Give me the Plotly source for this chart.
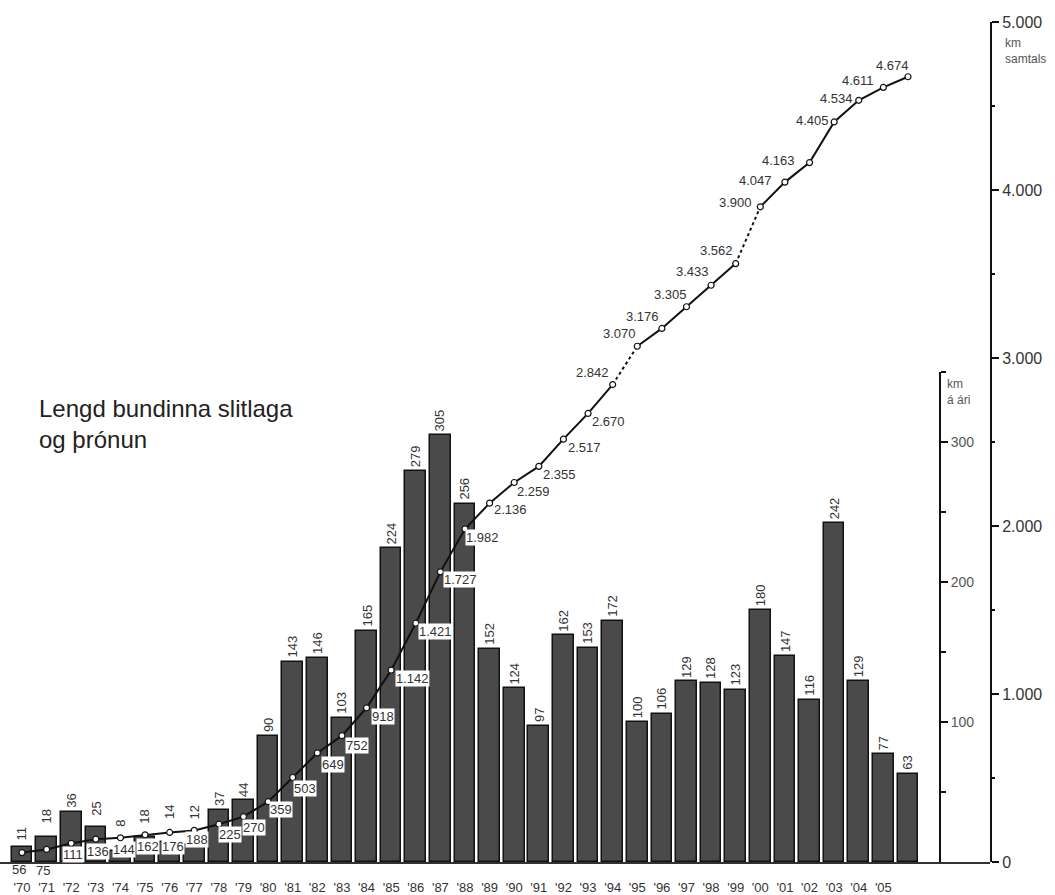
import plotly.graph_objects as go

years = list(range(1970, 2007))
tick_years = list(range(1970, 2006))
tick_labels = ["'" + str(y)[2:] for y in tick_years]
km_per_year = [11, 18, 36, 25, 8, 18, 14, 12, 37, 44, 90, 143, 146, 103, 165, 224, 279, 305,
               256, 152, 124, 97, 162, 153, 172, 100, 106, 129, 128, 123, 180, 147, 116, 242,
               129, 77, 63]
km_total = [56, 75, 111, 136, 144, 162, 176, 188, 225, 270, 359, 503, 649, 752, 918, 1142,
            1421, 1727, 1982, 2136, 2259, 2355, 2517, 2670, 2842, 3070, 3176, 3305, 3433, 3562,
            3900, 4047, 4163, 4405, 4534, 4611, 4674]
total_ticks = [0, 1000, 2000, 3000, 4000, 5000]
year_ticks = [100, 200, 300]

# label placement (screen px offsets: dx right, dy down)
label_offsets = [(-3, 17), (-4, 21), (2, 11), (2, 12), (4, 12), (3, 12), (3, 14), (3, 9),
                 (11, 10), (11, 11), (13, 8), (12, 11), (16, 12), (15, 10), (16, 9), (21, 8),
                 (20, 8), (20, 8), (18, 8), (21, 6), (19, 9), (21, 8), (21, 8), (20, 8),
                 (-20, -12), (-18, -13), (-19, -12), (-16, -12), (-19, -14), (-19, -13),
                 (-25, -4), (-29, -2), (-31, -2), (-22, -1), (-22, -2), (-25, -7), (-15, -11)]
boxed = set(range(2, 19))
# extra lift (px) of some bar labels so they clear the line
bar_label_lift = {0: 2, 1: 9, 3: 7, 4: 20, 5: 9, 6: 19, 7: 22}
dotted_segments = [(24, 25), (29, 30)]
solid_segments = [(0, 24), (25, 29), (30, 36)]

FONT = "Liberation Sans, Arial, sans-serif"
TXT = "#333333"

def fmt(v):
    return f"{v:,}".replace(",", ".")

fig = go.Figure()

fig.add_trace(go.Bar(
    x=years, y=km_per_year, width=0.84,
    marker=dict(color="#4a4a4a", line=dict(color="#111111", width=1.5)),
    xaxis="x", yaxis="y", showlegend=False,
))

for a, b in solid_segments:
    fig.add_trace(go.Scatter(
        x=years[a:b + 1], y=km_total[a:b + 1], mode="lines",
        line=dict(color="#111111", width=2), xaxis="x", yaxis="y2",
        showlegend=False, hoverinfo="skip", cliponaxis=False))
for a, b in dotted_segments:
    fig.add_trace(go.Scatter(
        x=years[a:b + 1], y=km_total[a:b + 1], mode="lines",
        line=dict(color="#111111", width=2, dash="dot"), xaxis="x", yaxis="y2",
        showlegend=False, hoverinfo="skip", cliponaxis=False))
fig.add_trace(go.Scatter(
    x=years, y=km_total, mode="markers",
    marker=dict(size=6, color="white", line=dict(color="#111111", width=1.2)),
    xaxis="x", yaxis="y2", showlegend=False, cliponaxis=False))

annotations = []
for i, (yr, v) in enumerate(zip(years, km_per_year)):
    annotations.append(dict(
        x=yr, y=v, xref="x", yref="y", text=str(v), showarrow=False, textangle=-90,
        xanchor="center", yanchor="bottom", yshift=2 + bar_label_lift.get(i, 0),
        font=dict(family=FONT, size=13, color=TXT)))

for i, (yr, v) in enumerate(zip(years, km_total)):
    dx, dy = label_offsets[i]
    ann = dict(x=yr, y=v, xref="x", yref="y2", text=fmt(v), showarrow=False,
               xshift=dx, yshift=-dy, font=dict(family=FONT, size=13, color=TXT))
    if i in boxed:
        ann.update(bgcolor="white", borderpad=0)
    annotations.append(ann)

annotations += [
    dict(x=37 / 990, y=(862 - 424) / 840, xref="paper", yref="paper", xanchor="left",
         yanchor="middle", align="left", showarrow=False,
         text="Lengd bundinna slitlaga<br>og þrónun",
         font=dict(family=FONT, size=24, color="#222222")),
    dict(x=1003 / 990, y=(862 - 51) / 840, xref="paper", yref="paper", xanchor="left",
         yanchor="middle", align="left", showarrow=False, text="km<br>samtals",
         font=dict(family=FONT, size=12, color="#555555")),
    dict(x=945 / 990, y=(862 - 392) / 840, xref="paper", yref="paper", xanchor="left",
         yanchor="middle", align="left", showarrow=False, text="km<br>á ári",
         font=dict(family=FONT, size=12, color="#555555")),
]

fig.update_layout(
    width=1055, height=895,
    margin=dict(l=0, r=65, t=22, b=33),
    paper_bgcolor="white", plot_bgcolor="rgba(0,0,0,0)",
    bargap=0,
    annotations=annotations,
    xaxis=dict(range=[1969.106, 2009.333], tickvals=tick_years, ticktext=tick_labels,
               showgrid=False, zeroline=False, showline=True, linecolor="#333333",
               linewidth=1.5, ticks="outside", ticklen=13, tickcolor="rgba(0,0,0,0)",
               tickfont=dict(family=FONT, size=13, color=TXT), anchor="y"),
    yaxis=dict(domain=[0, 490 / 840], range=[0, 350], anchor="free",
               position=940 / 990, side="right", showgrid=False, zeroline=False,
               showline=True, linecolor="#111111", linewidth=2,
               tickvals=year_ticks, ticktext=[str(v) for v in year_ticks],
               ticks="outside", ticklen=7, tickwidth=1.5, tickcolor="#111111",
               tickfont=dict(family=FONT, size=14, color="#555555"),
               minor=dict(tickvals=[50, 150, 250, 350], ticks="outside", ticklen=5,
                          tickcolor="#111111", tickwidth=1.5)),
    yaxis2=dict(domain=[0, 1], range=[0, 5000], side="right", anchor="x",
                showgrid=False, zeroline=False, showline=True, linecolor="#111111",
                linewidth=2, tickvals=total_ticks, ticktext=[fmt(v) for v in total_ticks],
                ticks="outside", ticklen=7, tickwidth=1.5, tickcolor="#111111",
                tickfont=dict(family=FONT, size=16, color=TXT),
                minor=dict(tickvals=[500, 1500, 2500, 3500, 4500], ticks="outside",
                           ticklen=3, tickcolor="#111111", tickwidth=1.5)),
)

fig.write_html("out.html", config={"displayModeBar": False},
               post_script="document.body.style.margin='0';")
